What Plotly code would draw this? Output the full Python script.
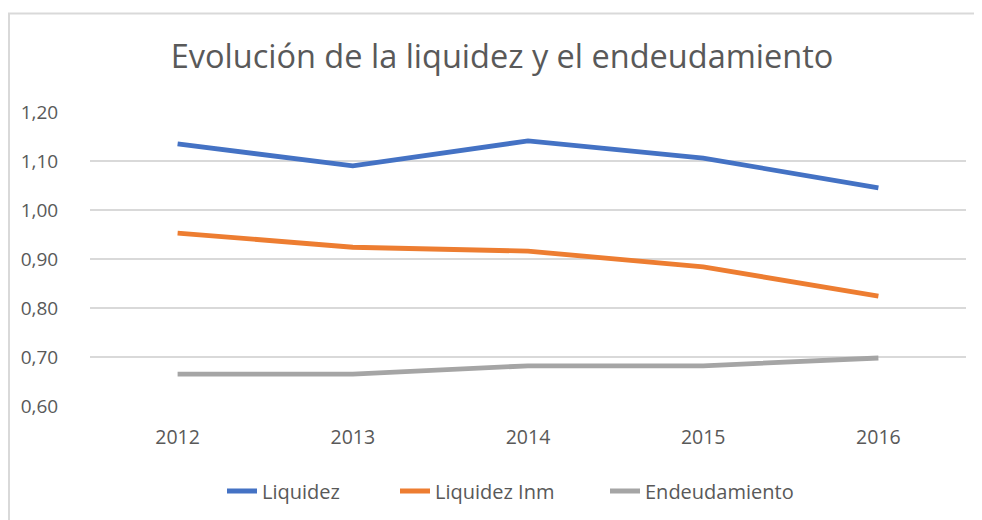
import plotly.graph_objects as go

years = ["2012", "2013", "2014", "2015", "2016"]
liquidez = [1.135, 1.090, 1.141, 1.106, 1.045]
liquidez_inm = [0.953, 0.924, 0.916, 0.884, 0.824]
endeudamiento = [0.665, 0.665, 0.682, 0.682, 0.698]
y_ticks = [0.60, 0.70, 0.80, 0.90, 1.00, 1.10, 1.20]

FONT = "Open Sans"
TXT = "#595959"

# page body has an 8px margin, so the figure is offset by 8px
OFF = 8
W, H = 982 - OFF, 520 - OFF
L, R, T = 90 - OFF, 16, 112 - OFF
B = H - (406 - OFF)

fig = go.Figure()
series = [("Liquidez", liquidez, "#4472C4", "legend", 222),
          ("Liquidez Inm", liquidez_inm, "#ED7D31", "legend2", 395),
          ("Endeudamiento", endeudamiento, "#A5A5A5", "legend3", 605)]
for name, vals, col, lg, _ in series:
    fig.add_trace(go.Scatter(x=years, y=vals, name=name, mode="lines",
                             line=dict(color=col, width=4.8), legend=lg))

leg_common = dict(orientation="h", xref="container", xanchor="left",
                  yref="container", yanchor="middle", y=1 - (491 - OFF) / H,
                  font=dict(family=FONT, size=20, color=TXT),
                  bgcolor="rgba(0,0,0,0)")
legends = {}
for name, vals, col, lg, xpx in series:
    legends[lg] = dict(leg_common, x=(xpx - OFF) / W)

fig.update_layout(
    width=W, height=H,
    margin=dict(l=L, r=R, t=T, b=B),
    paper_bgcolor="white", plot_bgcolor="white",
    separators=",.",
    font=dict(family=FONT, color=TXT, size=19),
    title=dict(text="Evolución de la liquidez y el endeudamiento",
               x=(502 - OFF) / W, xref="container", xanchor="center",
               y=1 - (57 - OFF) / H, yref="container", yanchor="middle",
               font=dict(family=FONT, size=32.5, color=TXT)),
    showlegend=True,
    xaxis=dict(type="category", range=[-0.5, 4.5], showgrid=False,
               showline=False, zeroline=False,
               ticks="outside", ticklen=14, tickcolor="rgba(0,0,0,0)",
               tickfont=dict(family=FONT, size=19.5, color=TXT)),
    yaxis=dict(range=[0.6, 1.2], tickvals=y_ticks, tickformat=".2f",
               showgrid=True, gridcolor="#D9D9D9", gridwidth=1.5,
               zeroline=False, showline=False,
               ticks="outside", ticklen=27, tickcolor="rgba(0,0,0,0)",
               tickfont=dict(family=FONT, size=19, color=TXT)),
    **legends,
)

pw = W - L - R
ph = H - T - B
def px_to_paper_x(px):
    return (px - OFF - L) / pw
def px_to_paper_y(py):
    return (H - B - (py - OFF)) / ph

# outer chart border: only top and left edges are visible in the picture
border = dict(color="#D9D9D9", width=2)
fig.add_shape(type="line", xref="paper", yref="paper",
              x0=px_to_paper_x(8), x1=px_to_paper_x(990),
              y0=px_to_paper_y(13.5), y1=px_to_paper_y(13.5),
              line=border, layer="below")
fig.add_shape(type="line", xref="paper", yref="paper",
              x0=px_to_paper_x(9), x1=px_to_paper_x(9),
              y0=px_to_paper_y(13.5), y1=px_to_paper_y(530),
              line=border, layer="below")

fig.write_html("out.html")
